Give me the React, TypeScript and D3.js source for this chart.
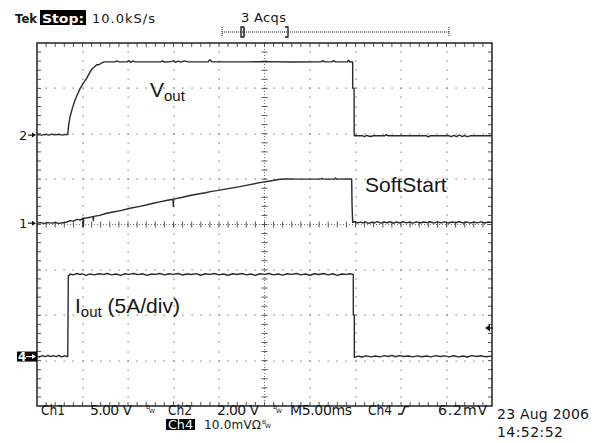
import React from "react";
import * as d3 from "d3";

// time in ms (M5.00ms per div, 10 div), values in channel units
const voutData: [number, number][] = [
  [0, 0.02], [0.5, 0.0], [1.0, 0.03], [1.3, 0.0], [1.6, 0.04], [2.0, 0.01], [2.4, 0.04], [2.8, 0.0], [3.2, 0.03], [3.38, 0.02],
  [3.45, 0.35], [3.63, 0.81], [3.9, 1.2], [4.18, 1.55], [4.45, 1.8], [4.73, 2.05], [5.1, 2.3], [5.46, 2.5], [5.75, 2.72],
  [6.01, 2.9], [6.3, 3.0], [6.56, 3.1], [6.8, 3.1], [7.11, 3.18], [7.4, 3.23],
  [8.6, 3.23], [8.8, 3.27], [9.0, 3.23], [9.9, 3.23], [10.1, 3.28], [10.3, 3.2], [10.5, 3.27], [10.8, 3.23], [13.6, 3.23],
  [13.8, 3.27], [14.0, 3.22], [14.6, 3.23], [15.0, 3.27], [15.2, 3.21], [15.5, 3.26], [15.8, 3.22], [16.2, 3.27], [16.6, 3.23],
  [18.8, 3.23], [19.0, 3.32], [19.2, 3.23], [23, 3.23], [25, 3.24], [28, 3.22], [31.2, 3.23], [31.4, 3.28], [31.6, 3.23],
  [32.4, 3.23], [32.6, 3.28], [32.8, 3.23], [34.1, 3.23], [34.25, 3.3], [34.4, 3.22], [34.69, 3.23],
  [34.69, 2.07], [34.84, 2.07], [34.86, -0.03],
  [35.8, -0.03], [36.0, -0.07], [36.2, -0.01], [36.6, -0.06], [37.0, -0.03], [38.2, -0.03], [38.4, 0.02], [38.6, -0.03],
  [42.8, -0.03], [43.0, -0.08], [43.2, -0.03], [45.3, -0.03], [45.5, -0.07], [45.8, -0.01], [46.1, -0.07], [46.4, 0.0],
  [46.7, -0.06], [47.0, -0.02], [47.3, -0.07], [47.6, -0.03], [50, -0.03],
];

const softStartData: [number, number][] = [
  [0, 0.0], [0.4, 0.05], [0.8, -0.03], [1.2, 0.06], [1.6, 0.0], [2.0, 0.07], [2.4, -0.02], [2.86, 0.05], [3.2, 0.1],
  [3.63, 0.28], [4.0, 0.22], [4.4, 0.42], [4.8, 0.35], [5.05, 0.55], [5.09, -0.4], [5.13, 0.54], [5.6, 0.6], [6.15, 0.72],
  [6.19, 0.28], [6.23, 0.75], [6.9, 0.85], [7.66, 1.09], [8.5, 1.25], [9.3, 1.4], [10.22, 1.64], [11.3, 1.85], [12.0, 2.0],
  [12.78, 2.19], [13.5, 2.35], [14.2, 2.5], [14.95, 2.63], [14.98, 1.82], [15.02, 2.65], [16.0, 2.85], [16.8, 3.05],
  [17.55, 3.18], [18.5, 3.35], [19.2, 3.5], [19.75, 3.58], [21.0, 3.8], [22.31, 4.02], [23.4, 4.25], [24.51, 4.46],
  [25.6, 4.65], [26.7, 4.84], [27.5, 4.86], [28.5, 4.85], [31.2, 4.85], [31.3, 4.95], [31.4, 4.85], [32.7, 4.85],
  [32.8, 4.97], [32.9, 4.85], [34.5, 4.87], [34.58, 4.85], [34.62, 2.0], [34.69, 0.1],
  [35.0, 0.15], [35.2, 0.0], [35.5, 0.12], [35.8, 0.02], [36.1, 0.14], [36.4, -0.02], [36.8, 0.1], [37.1, 0.03],
  [37.4, 0.16], [37.8, 0.0], [38.1, 0.12], [38.5, 0.04], [38.8, 0.15], [39.2, -0.01], [39.5, 0.13], [39.9, 0.02],
  [40.2, 0.15], [40.6, 0.03], [41.0, 0.12], [41.3, 0.0], [41.7, 0.14], [42.1, 0.02], [42.5, 0.12], [42.9, 0.05],
  [43.2, 0.15], [43.6, 0.0], [44.0, 0.13], [44.4, 0.03], [44.8, 0.14], [45.2, 0.01], [45.6, 0.12], [46.0, 0.04],
  [46.4, 0.15], [46.8, 0.02], [47.2, 0.13], [47.6, 0.0], [48.0, 0.12], [48.4, 0.03], [48.8, 0.14], [49.2, 0.01],
  [49.6, 0.12], [50, 0.05],
];

const ioutData: [number, number][] = [
  [0, 0.05], [0.3, -0.05], [0.6, 0.1], [0.9, 0.0], [1.2, 0.12], [1.5, -0.02], [1.8, 0.1], [2.1, 0.0], [2.4, 0.12],
  [2.7, -0.03], [3.0, 0.08], [3.38, 0.0], [3.44, 8.9], [3.6, 8.95], [3.62, 9.1], [4.0, 9.0], [4.4, 9.15], [4.7, 9.05],
  [5.0, 9.1], [5.4, 8.95], [5.8, 9.1], [6.3, 9.0], [6.8, 9.12], [7.3, 9.05], [7.7, 9.15], [8.2, 9.0], [8.7, 9.1],
  [9.2, 8.95], [9.6, 9.12], [10.1, 9.05], [10.6, 9.15], [11.1, 9.02], [11.6, 9.12], [12.1, 8.95], [12.6, 9.1],
  [13.0, 9.05], [13.5, 9.15], [14.0, 9.0], [14.5, 9.12], [15.0, 9.05], [15.5, 9.15], [16.0, 8.98], [16.5, 9.1],
  [17.0, 9.04], [17.5, 9.14], [18.0, 8.96], [18.5, 9.12], [19.0, 9.05], [19.5, 9.15], [20.0, 9.0], [20.5, 9.1],
  [21.0, 8.96], [21.5, 9.12], [22.0, 9.04], [22.5, 9.15], [23.0, 9.0], [23.5, 9.1], [24.0, 8.95], [24.5, 9.12],
  [25.0, 9.05], [25.5, 9.15], [26.0, 9.0], [26.5, 9.1], [27.0, 8.97], [27.5, 9.12], [28.0, 9.05], [28.5, 9.15],
  [29.0, 9.0], [29.5, 9.1], [30.0, 8.96], [30.5, 9.12], [31.0, 9.04], [31.5, 9.15], [32.0, 9.0], [32.5, 9.12],
  [33.0, 8.95], [33.5, 9.1], [34.0, 9.05], [34.4, 9.12], [34.76, 9.06],
  [34.76, 4.57], [34.87, 4.57], [34.87, -0.09], [35.3, 0.05], [35.7, -0.05], [36.2, 0.08], [36.7, -0.03], [37.2, 0.06],
  [37.7, -0.04], [38.2, 0.1], [38.6, 0.0], [39.0, 0.12], [39.4, -0.02], [39.8, 0.1], [40.3, 0.0], [40.8, 0.06],
  [41.3, -0.04], [41.8, 0.08], [42.3, -0.02], [42.8, 0.06], [43.3, -0.04], [43.8, 0.1], [44.3, 0.0], [44.8, 0.07],
  [45.3, -0.03], [45.8, 0.09], [46.3, -0.03], [46.8, 0.06], [47.3, -0.05], [47.8, 0.1], [48.3, 0.0], [48.8, 0.08],
  [49.3, -0.02], [50, 0.05],
];

const headerTexts = ["Tek", "Stop:", "10.0kS/s", "3 Acqs"];
const footerTexts = ["Ch1", "5.00 V", "Ch2", "2.00 V", "M5.00ms", "Ch4", "6.2mV"];
const footer2Texts = ["Ch4", "10.0mVΩ"];
const dateTexts = ["23 Aug 2006", "14:52:52"];
const traceLabels = ["SoftStart", "(5A/div)"];

// channel setup: ground offset in divisions, units per division
const channels = {
  vout: { ground: 1.97, perDiv: 2 },
  soft: { ground: 0.03, perDiv: 5 },
  iout: { ground: -2.91, perDiv: 5 },
};

const X0 = 37, X1 = 492, Y0 = 43, Y1 = 406;

export default function App() {
  const x = d3.scaleLinear().domain([0, 50]).range([X0, X1]);
  const yDiv = d3.scaleLinear().domain([-4, 4]).range([Y1, Y0]);
  const mkLine = (ch: { ground: number; perDiv: number }) =>
    d3
      .line<[number, number]>()
      .x((d) => x(d[0]))
      .y((d) => yDiv(ch.ground + d[1] / ch.perDiv));

  const minorT = d3.range(1, 50);
  const minorDiv = d3.range(-19, 20).map((i) => i / 5);
  const majorT = d3.range(5, 50, 5);
  const majorDiv = [-3, -2, -1, 1, 2, 3];
  const cx = x(25), cy = yDiv(0);

  const txt: React.CSSProperties = { fontFamily: "DejaVu Sans, sans-serif" };
  const lbl: React.CSSProperties = { fontFamily: "Liberation Sans, Arial, sans-serif" };
  const ink = "#161616";
  const dotC = "#707070";

  return (
    <svg width={598} height={443} style={{ position: "absolute", left: 0, top: 0, background: "#fff" }}>
      {/* grid dots */}
      <g fill={dotC}>
        {majorT.filter((t) => t !== 25).map((t) =>
          minorDiv.map((d) => (
            <rect key={`v${t}_${d}`} x={Math.round(x(t)) - 0.5} y={Math.round(yDiv(d)) - 0.5} width={1.2} height={1.2} />
          ))
        )}
        {majorDiv.map((d) =>
          minorT.map((t) => (
            <rect key={`h${t}_${d}`} x={Math.round(x(t)) - 0.5} y={Math.round(yDiv(d)) - 0.5} width={1.2} height={1.2} />
          ))
        )}
      </g>
      {/* center lines */}
      <line x1={X0} x2={X1} y1={cy} y2={cy} stroke={dotC} strokeWidth={1} strokeDasharray="1,2" />
      <line x1={cx} x2={cx} y1={Y0} y2={Y1} stroke={dotC} strokeWidth={1} strokeDasharray="1,2" />
      <g stroke="#555" strokeWidth={1}>
        {minorT.map((t) => (
          <line key={`ct${t}`} x1={x(t)} x2={x(t)} y1={cy - 3} y2={cy + 3} />
        ))}
        {minorDiv.map((d) => (
          <line key={`cd${d}`} x1={cx - 3} x2={cx + 3} y1={yDiv(d)} y2={yDiv(d)} />
        ))}
        {/* edge ticks */}
        {minorT.map((t) => (
          <g key={`et${t}`}>
            <line x1={x(t)} x2={x(t)} y1={Y0} y2={Y0 + 4} />
            <line x1={x(t)} x2={x(t)} y1={Y1 - 4} y2={Y1} />
          </g>
        ))}
        {minorDiv.map((d) => (
          <g key={`ed${d}`}>
            <line x1={X0} x2={X0 + 4} y1={yDiv(d)} y2={yDiv(d)} />
            <line x1={X1 - 4} x2={X1} y1={yDiv(d)} y2={yDiv(d)} />
          </g>
        ))}
      </g>
      <rect x={X0} y={Y0} width={X1 - X0} height={Y1 - Y0} fill="none" stroke="#222" strokeWidth={1.5} />

      {/* traces */}
      <g fill="none" stroke="#2a2a2a" strokeWidth={1.4} strokeLinejoin="round">
        <path d={mkLine(channels.vout)(voutData) || ""} />
        <path d={mkLine(channels.soft)(softStartData) || ""} />
        <path d={mkLine(channels.iout)(ioutData) || ""} />
      </g>

      {/* trace labels */}
      <g fill={ink} style={lbl}>
        <text x={150} y={97} fontSize={21}>
          V<tspan fontSize={15} dy={4}>out</tspan>
        </text>
        <text x={365} y={192} fontSize={21}>{traceLabels[0]}</text>
        <text x={75} y={313} fontSize={21}>
          I<tspan fontSize={15} dy={4}>out</tspan>
          <tspan dy={-4}> {traceLabels[1]}</tspan>
        </text>
      </g>

      {/* channel markers */}
      <g style={txt} fontSize={13} fill={ink}>
        <text x={19} y={yDiv(channels.vout.ground) + 5}>2</text>
        <text x={19} y={yDiv(channels.soft.ground) + 5}>1</text>
      </g>
      <g stroke={ink} strokeWidth={1.2} fill={ink}>
        {[channels.vout.ground, channels.soft.ground].map((g) => (
          <g key={g}>
            <line x1={28} x2={34} y1={yDiv(g)} y2={yDiv(g)} />
            <path d={`M${36},${yDiv(g)} L${32},${yDiv(g) - 2.5} L${32},${yDiv(g) + 2.5} Z`} stroke="none" />
          </g>
        ))}
      </g>
      <rect x={17} y={yDiv(channels.iout.ground) - 5} width={20} height={10} fill="#000" />
      <text x={18} y={yDiv(channels.iout.ground) + 4.5} style={txt} fontSize={12} fontWeight="bold" fill="#fff">4</text>
      <line x1={26} x2={33} y1={yDiv(channels.iout.ground)} y2={yDiv(channels.iout.ground)} stroke="#fff" strokeWidth={1.2} />
      <path
        d={`M${36},${yDiv(channels.iout.ground)} L${32},${yDiv(channels.iout.ground) - 2.5} L${32},${yDiv(channels.iout.ground) + 2.5} Z`}
        fill="#fff"
      />
      {/* trigger level marker */}
      <path d={`M485,328 L490,324.5 L490,331.5 Z`} fill={ink} />
      <line x1={489} x2={493} y1={328} y2={328} stroke={ink} strokeWidth={1.2} />

      {/* header */}
      <g style={txt} fill={ink}>
        <text x={15} y={23} fontSize={13} fontWeight="bold" textLength={22} lengthAdjust="spacingAndGlyphs">{headerTexts[0]}</text>
        <rect x={40} y={10} width={46} height={15} fill="#000" />
        <text x={42} y={23} fontSize={13} fontWeight="bold" fill="#fff" textLength={42} lengthAdjust="spacingAndGlyphs">{headerTexts[1]}</text>
        <text x={92} y={23} fontSize={13} textLength={63} lengthAdjust="spacing">{headerTexts[2]}</text>
        <text x={241} y={22} fontSize={13} textLength={45} lengthAdjust="spacing">{headerTexts[3]}</text>
      </g>
      {/* record bar */}
      <g stroke={ink} strokeWidth={1}>
        <line x1={222} x2={449} y1={32} y2={32} strokeDasharray="1,1" />
        <line x1={222} x2={222} y1={27} y2={37} strokeDasharray="1,1" />
        <line x1={449} x2={449} y1={27} y2={37} strokeDasharray="1,1" />
        <path d="M244,27 L241,27 L241,37 L244,37" fill="none" strokeWidth={1.3} />
        <line x1={244} x2={244} y1={27} y2={37} strokeWidth={1.5} />
        <path d="M285,27 L288,27 L288,37 L285,37" fill="none" strokeWidth={1.3} />
      </g>

      {/* footer */}
      <g style={txt} fill={ink} fontSize={14}>
        <text x={41} y={414.5} textLength={24} lengthAdjust="spacingAndGlyphs">{footerTexts[0]}</text>
        <text x={90} y={414.5} textLength={42} lengthAdjust="spacing">{footerTexts[1]}</text>
        <text x={168} y={414.5} textLength={24} lengthAdjust="spacingAndGlyphs">{footerTexts[2]}</text>
        <text x={217} y={414.5} textLength={42} lengthAdjust="spacing">{footerTexts[3]}</text>
        <text x={290} y={414.5} textLength={62} lengthAdjust="spacing">{footerTexts[4]}</text>
        <text x={368} y={414.5} textLength={24} lengthAdjust="spacingAndGlyphs">{footerTexts[5]}</text>
        <text x={438} y={414.5} textLength={49} lengthAdjust="spacing">{footerTexts[6]}</text>
        <rect x={166} y={419} width={29} height={11} fill="#000" />
        <text x={168} y={429} fill="#fff" fontSize={12} textLength={25} lengthAdjust="spacingAndGlyphs">{footer2Texts[0]}</text>
        <text x={204} y={429} fontSize={12} textLength={57} lengthAdjust="spacing">{footer2Texts[1]}</text>
        <text x={497} y={419} textLength={92} lengthAdjust="spacing">{dateTexts[0]}</text>
        <text x={497} y={437} textLength={66} lengthAdjust="spacing">{dateTexts[1]}</text>
      </g>
      {/* BW symbols */}
      <g style={txt} fill={ink} fontSize={6}>
        {[146, 273].map((bx) => (
          <g key={bx}>
            <text x={bx} y={409}>B</text>
            <text x={bx + 3} y={413}>W</text>
          </g>
        ))}
        <text x={262} y={424}>B</text>
        <text x={265} y={428}>W</text>
      </g>
      {/* rising edge symbol */}
      <path d="M398,414 L402,414 L405,406.5 L409,406.5" fill="none" stroke={ink} strokeWidth={1.5} />
    </svg>
  );
}
